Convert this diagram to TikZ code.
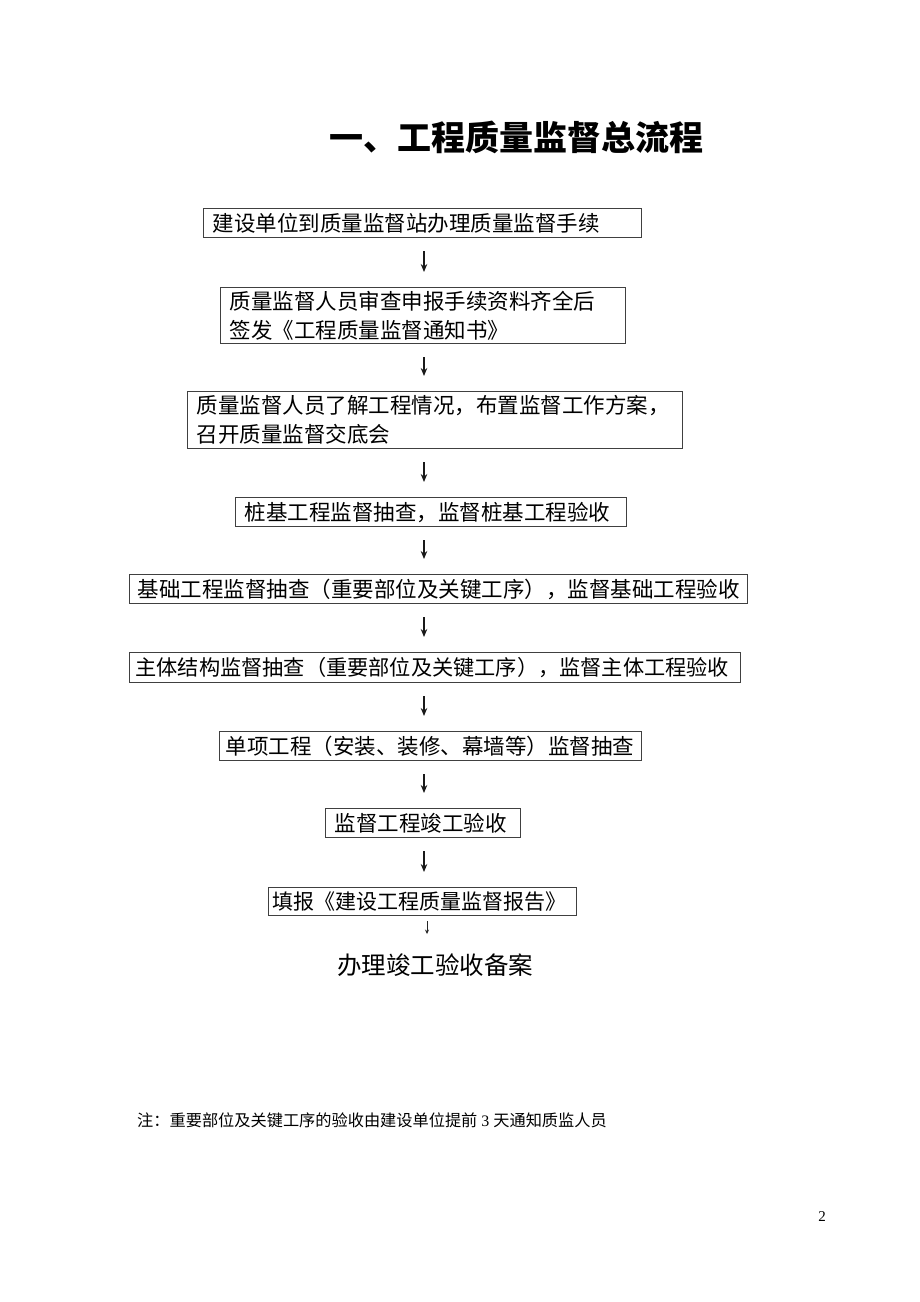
\documentclass[tikz,border=0pt]{standalone}
\usepackage{fontspec}
\setmainfont{Liberation Serif}
\newfontfamily\cjk{Noto Sans CJK SC}
\usetikzlibrary{arrows.meta}
\tikzset{
  box/.style={draw=black!75, line width=1.1pt, anchor=north west, inner xsep=9pt, inner ysep=0pt,
    align=left, font=\cjk\fontsize{21.5}{29}\selectfont},
  flow/.style={draw=black!90, line width=1.3pt, -{Stealth[length=8pt,width=6.5pt]}},
}
\newcommand{\bx}[6]{\node[box, minimum width=#3pt, minimum height=#4pt, text width=#5pt] (#6) at (#1,#2)}
\begin{document}
\begin{tikzpicture}[x=1pt,y=-1pt]
\useasboundingbox (0,0) rectangle (920,1302);
\node[font=\cjk\bfseries\fontsize{34}{40}\selectfont] (title) at (516,137) {一、工程质量监督总流程};
\bx{203}{208}{438}{29}{420}{b1} {建设单位到质量监督站办理质量监督手续};
\bx{220}{287}{405}{56}{387}{b2} {质量监督人员审查申报手续资料齐全后\\签发《工程质量监督通知书》};
\bx{187}{391}{495}{57}{477}{b3} {质量监督人员了解工程情况，布置监督工作方案，\\召开质量监督交底会};
\bx{235}{497}{391}{29}{373}{b4} {桩基工程监督抽查，监督桩基工程验收};
\node[box, minimum width=618pt, minimum height=29pt, text width=602pt, inner xsep=8pt] (b5) at (129,574) {基础工程监督抽查（重要部位及关键工序），监督基础工程验收};
\node[box, minimum width=611pt, minimum height=30pt, text width=599pt, inner xsep=6pt, font=\cjk\fontsize{21.2}{29}\selectfont] (b6) at (129,652) {主体结构监督抽查（重要部位及关键工序），监督主体工程验收};
\node[box, minimum width=422pt, minimum height=29pt, text width=410pt, inner xsep=6pt] (b7) at (219,731) {单项工程（安装、装修、幕墙等）监督抽查};
\bx{325}{808}{195}{29}{177}{b8} {监督工程竣工验收};
\node[box, minimum width=308pt, minimum height=28pt, text width=300pt, inner xsep=4pt, font=\cjk\fontsize{21}{29}\selectfont] (b9) at (268,887) {填报《建设工程质量监督报告》};
\node[font=\cjk\fontsize{24.5}{30}\selectfont] (fin) at (435,965) {办理竣工验收备案};
\coordinate (ax) at (424,0);
\foreach \a/\b in {b1/b2,b2/b3,b3/b4,b4/b5,b5/b6,b6/b7,b7/b8,b8/b9}
  \draw[flow, shorten <=13pt, shorten >=15pt] (\a.south -| ax) -- (\b.north -| ax);
\coordinate (ax2) at (427,0);
\draw[draw=black!85, line width=0.9pt, -{Stealth[length=4.5pt,width=4pt]}, shorten <=5pt, shorten >=16pt] (b9.south -| ax2) -- (fin.north -| ax2);
\node[anchor=west, font=\cjk\fontsize{16.2}{18}\selectfont, inner sep=0pt] (note) at (137,1120) {注：重要部位及关键工序的验收由建设单位提前{\rmfamily\fontsize{16}{18}\selectfont\ 3\ }天通知质监人员};
\node[font=\rmfamily\fontsize{15}{18}\selectfont] (pg) at (822,1217) {2};
\end{tikzpicture}
\end{document}
